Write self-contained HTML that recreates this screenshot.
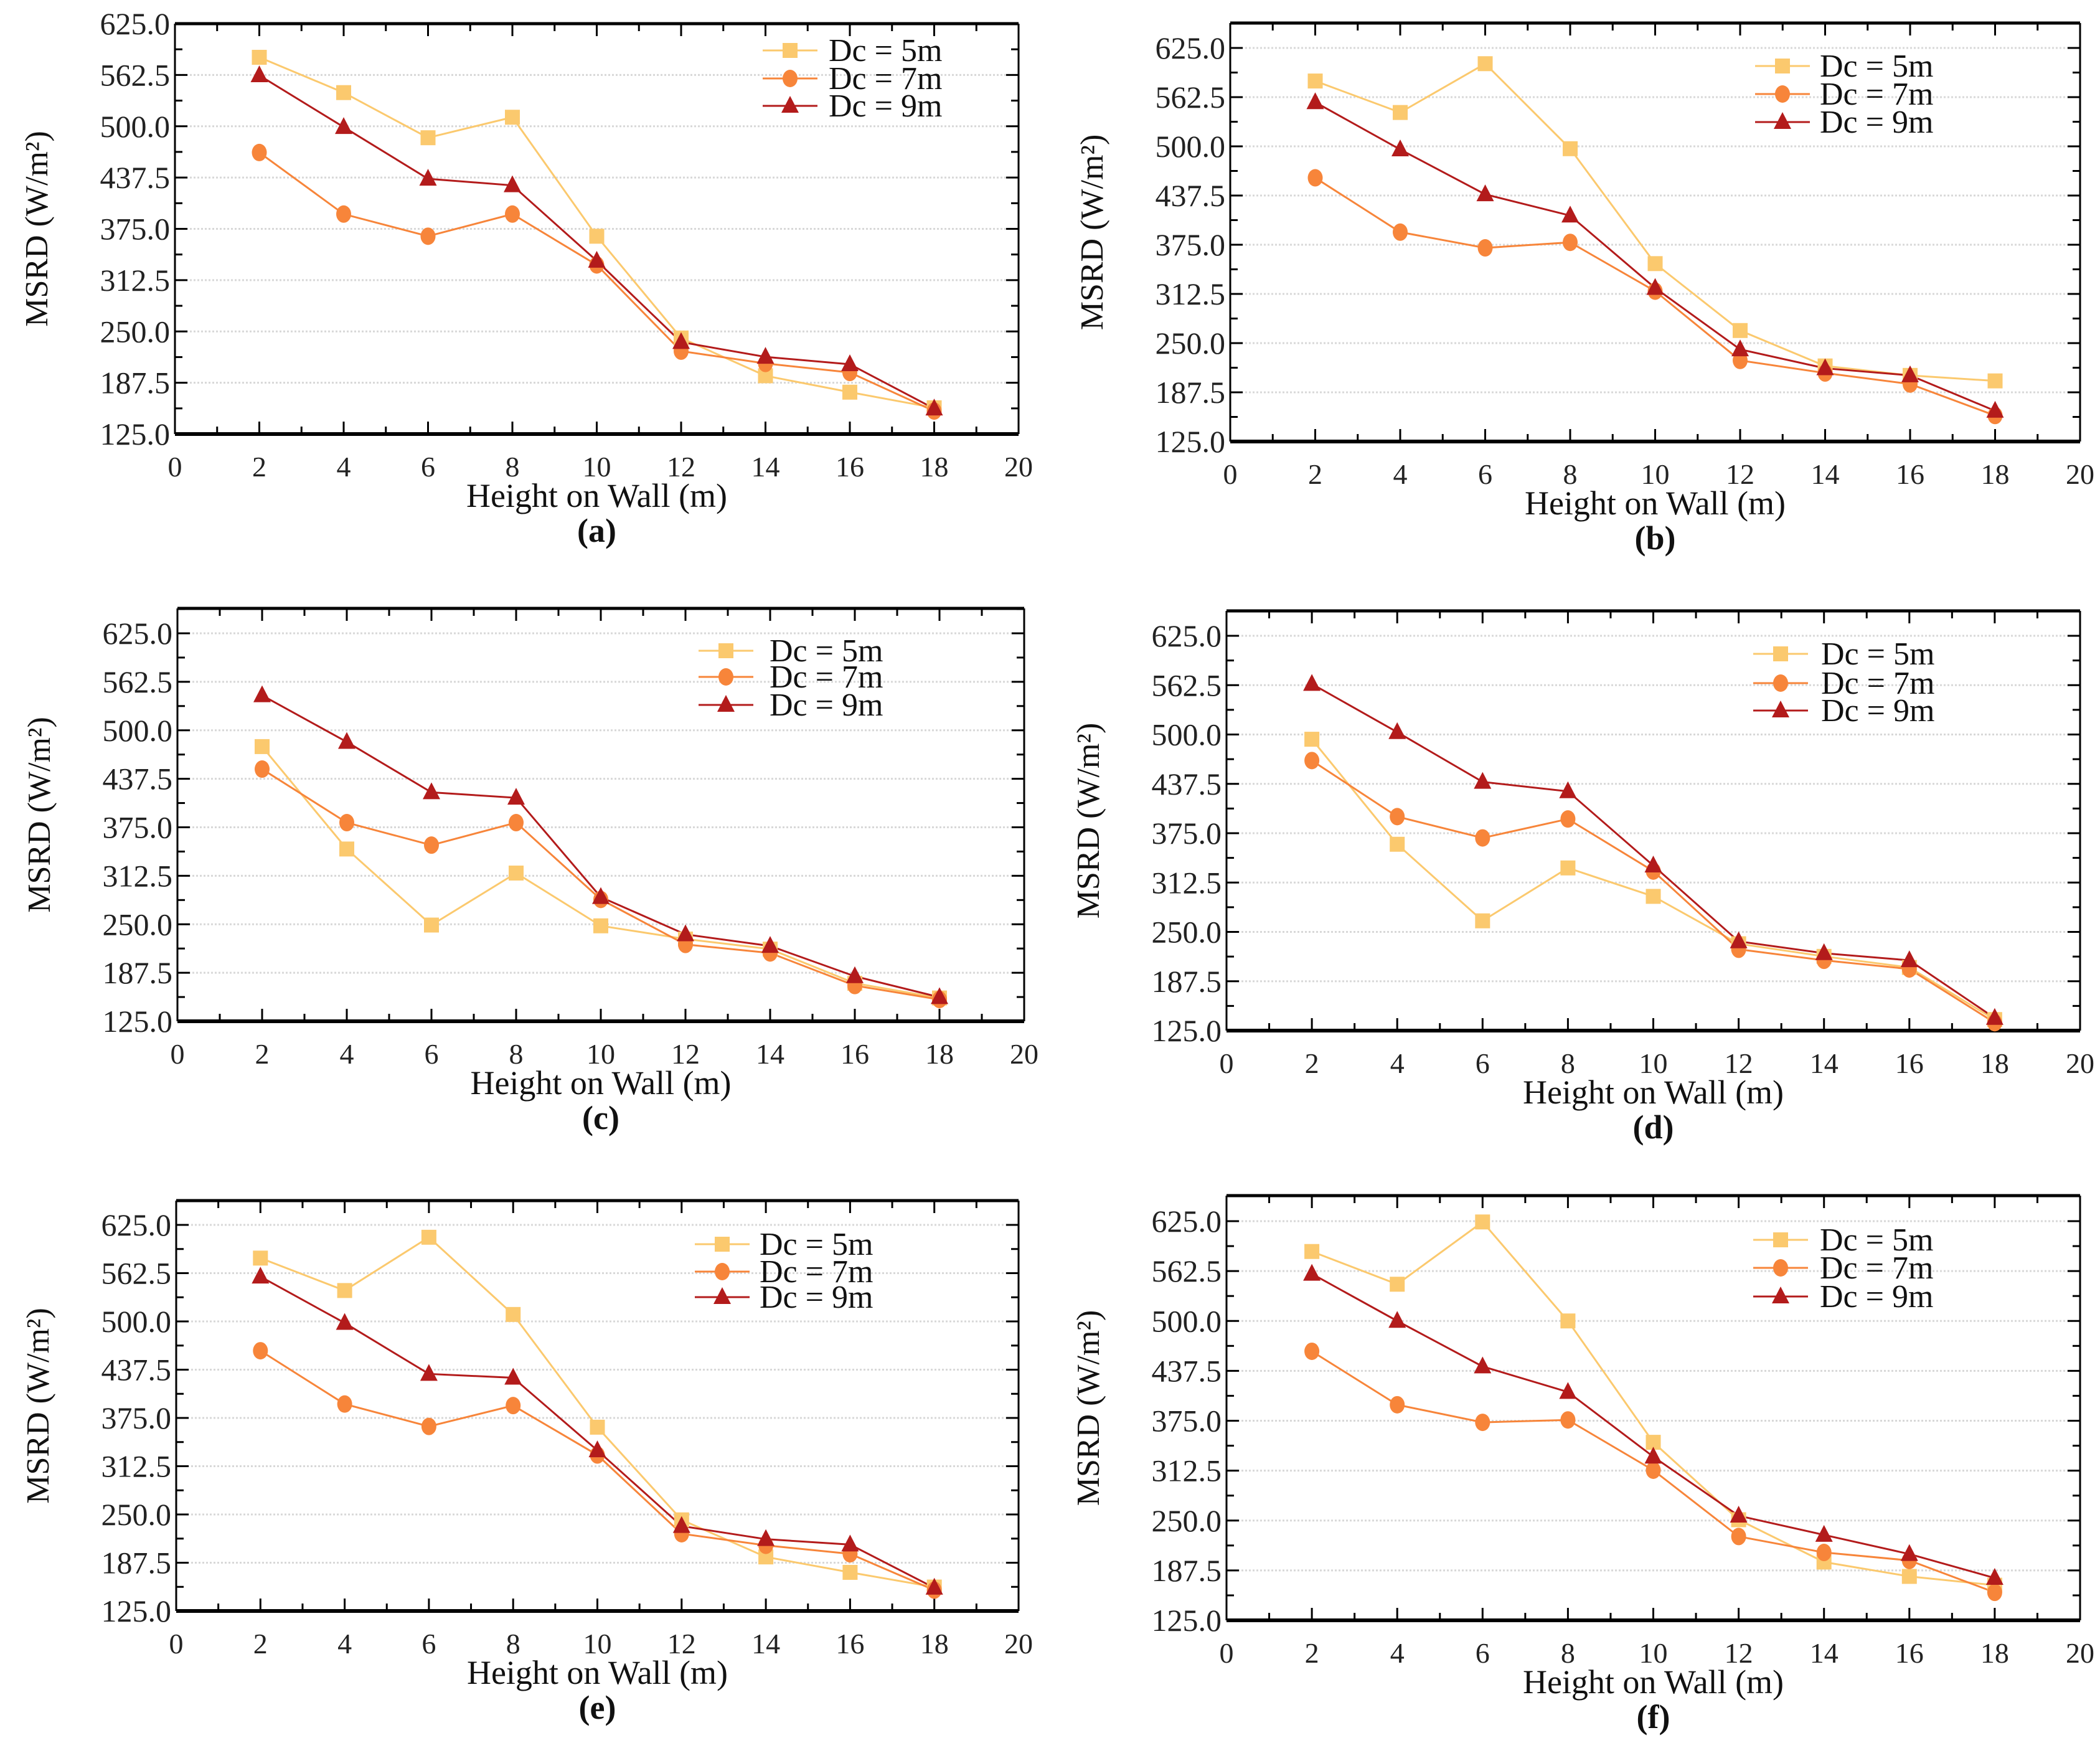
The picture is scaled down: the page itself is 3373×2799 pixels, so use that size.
<!DOCTYPE html>
<html><head><meta charset="utf-8"><style>
html,body{margin:0;padding:0;background:#fff;}
svg{display:block;}
text{font-family:"Liberation Serif","Times New Roman",serif;}
</style></head><body>
<svg id="fig" width="3373" height="2799" viewBox="0 0 3373 2799" xmlns="http://www.w3.org/2000/svg"></svg>
<script>
const xCategories = [2,4,6,8,10,12,14,16,18];
const xTickLabels = ["0","2","4","6","8","10","12","14","16","18","20"];
const yTickLabels = ["125.0","187.5","250.0","312.5","375.0","437.5","500.0","562.5","625.0"];
const seriesNames = ["Dc = 5m","Dc = 7m","Dc = 9m"];
const a5=[584,541,486,511,366,242,196,176,157];
const a7=[468,393,366,393,331,226,211,200,153];
const a9=[562,499,436,428,336,237,219,210,156];
const b5=[583,543,605,497,351,266,221,209,202];
const b7=[460,391,371,378,316,228,212,198,158];
const b9=[556,496,439,412,320,242,218,209,164];
const c5=[479,347,249,316,248,231,218,174,155];
const c7=[450,381,352,381,282,224,213,171,153];
const c9=[545,485,420,413,285,237,222,183,156];
const d5=[494,361,264,331,295,235,219,205,139];
const d7=[467,396,369,393,327,228,214,203,135];
const d9=[564,503,440,428,334,238,223,214,141];
const e5=[582,540,609,509,363,243,195,175,156];
const e7=[462,393,364,391,327,225,210,199,152];
const e9=[558,498,432,427,333,235,218,211,155];
const f5=[587,546,624,500,348,251,198,180,169];
const f7=[462,395,373,376,313,230,210,200,160];
const f9=[559,500,443,411,330,256,232,208,178];

const colors=["#FBC96E","#F7853A","#B31B1B"];
const FONT='"Liberation Serif", serif';
const NS="http://www.w3.org/2000/svg";
const svg=document.getElementById('fig');
function mk(tag,attrs,parent){const e=document.createElementNS(NS,tag);for(const k in attrs)e.setAttribute(k,attrs[k]);if(tag==='text')e.setAttribute('font-family',FONT);(parent||svg).appendChild(e);return e;}

const panels=[
 {id:"a",L:281,R:1636,T:38,Y625:38,B:697,lx:1269,tx:1331,ly:[81,126,170],data:[a5,a7,a9]},
 {id:"b",L:1976,R:3341,T:37,Y625:77,B:709,lx:2863,tx:2923,ly:[106,151,196],data:[b5,b7,b9]},
 {id:"c",L:285,R:1645,T:977,Y625:1017,B:1640,lx:1166,tx:1236,ly:[1045,1087,1132],data:[c5,c7,c9]},
 {id:"d",L:1970,R:3341,T:981,Y625:1021,B:1655,lx:2860,tx:2925,ly:[1050,1097,1141],data:[d5,d7,d9]},
 {id:"e",L:283,R:1636,T:1928,Y625:1967,B:2587,lx:1160,tx:1220,ly:[1998,2042,2083],data:[e5,e7,e9]},
 {id:"f",L:1970,R:3341,T:1920,Y625:1961,B:2602,lx:2860,tx:2923,ly:[1991,2036,2082],data:[f5,f7,f9]}
];

function marker(g,k,cx,cy){
  if(k===0){const m=mk('rect',{x:cx-12,y:cy-12,width:24,height:24,fill:colors[0]},g);}
  else if(k===1){const m=mk('ellipse',{cx:cx,cy:cy,rx:12,ry:14,fill:colors[1]},g);}
  else {const m=mk('polygon',{points:`${cx},${cy-16} ${cx+14},${cy+11} ${cx-14},${cy+11}`,fill:colors[2]},g);}
}

panels.forEach(p=>{
  const g=mk('g',{});
  
  
  const xs=v=>p.L+(v/20)*(p.R-p.L);
  const ys=v=>p.B-(v-125)/500*(p.B-p.Y625);
  yTickLabels.forEach(t=>{const v=parseFloat(t);const y=ys(v);
    const gl=mk('line',{x1:p.L,x2:p.R,y1:y,y2:y,stroke:"#d8d8d8","stroke-width":3,"stroke-dasharray":"3,3"},g);
    });
  mk('line',{x1:p.L,x2:p.R,y1:p.B,y2:p.B,stroke:"#000","stroke-width":6},g);
  mk('line',{x1:p.L,x2:p.R,y1:p.T,y2:p.T,stroke:"#000","stroke-width":5},g);
  mk('line',{x1:p.L,x2:p.L,y1:p.T,y2:p.B,stroke:"#000","stroke-width":3},g);
  mk('line',{x1:p.R,x2:p.R,y1:p.T,y2:p.B,stroke:"#000","stroke-width":3},g);
  for(let i=0;i<=20;i++){const x=xs(i);const len=i%2===0?20:12;
    mk('line',{x1:x,x2:x,y1:p.B,y2:p.B-len,stroke:"#000","stroke-width":3},g);
    mk('line',{x1:x,x2:x,y1:p.T,y2:p.T+len,stroke:"#000","stroke-width":3},g);}
  xTickLabels.forEach((t,i)=>{const tx=mk('text',{x:xs(parseFloat(t)),y:p.B+68,"font-size":46,"text-anchor":"middle",fill:"#222"},g);tx.textContent=t;
    });
  for(let v=125;ys(v)>=p.T-1;v+=31.25){const y=ys(v);const major=Math.abs(((v-125)/62.5)%1)<1e-6;const len=major?20:12;
    mk('line',{x1:p.R,x2:p.R-len,y1:y,y2:y,stroke:"#000","stroke-width":3},g);
    mk('line',{x1:p.L,x2:p.L+len,y1:y,y2:y,stroke:"#000","stroke-width":3},g);}
  yTickLabels.forEach(t=>{const tx=mk('text',{x:p.L-8,y:ys(parseFloat(t))+17,"font-size":50,"text-anchor":"end",fill:"#222"},g);tx.textContent=t;
    });
  const xt=mk('text',{x:(p.L+p.R)/2,y:p.B+117,"font-size":54,"text-anchor":"middle",fill:"#111"},g);xt.textContent="Height on Wall (m)";
  
  const cy=(p.T+p.B)/2;const cxx=p.L-222;
  const yt=mk('text',{x:cxx,y:cy,"font-size":52,"text-anchor":"middle",fill:"#111",transform:`rotate(-90 ${cxx} ${cy}) translate(0 17)`},g);yt.textContent="MSRD (W/m²)";
  
  const pl=mk('text',{x:(p.L+p.R)/2,y:p.B+173,"font-size":54,"font-weight":"bold","text-anchor":"middle",fill:"#111"},g);pl.textContent="("+p.id+")";
  
  p.data.forEach((arr,k)=>{
    const pts=arr.map((v,i)=>xs(xCategories[i])+","+ys(v)).join(" ");
    const ln=mk('polyline',{points:pts,fill:"none",stroke:colors[k],"stroke-width":3},g);
    
  });
  p.data.forEach((arr,k)=>{arr.forEach((v,i)=>marker(g,k,xs(xCategories[i]),ys(v)));});
  seriesNames.forEach((n,k)=>{
    const lg=mk('g',{},g);
    
    mk('line',{x1:p.lx-44,x2:p.lx+44,y1:p.ly[k],y2:p.ly[k],stroke:colors[k],"stroke-width":3},lg);
    marker(lg,k,p.lx,p.ly[k]);
    const t=mk('text',{x:p.tx,y:p.ly[k]+17,"font-size":52,fill:"#111"},lg);t.textContent=n;
  });
});
</script>
</body></html>
